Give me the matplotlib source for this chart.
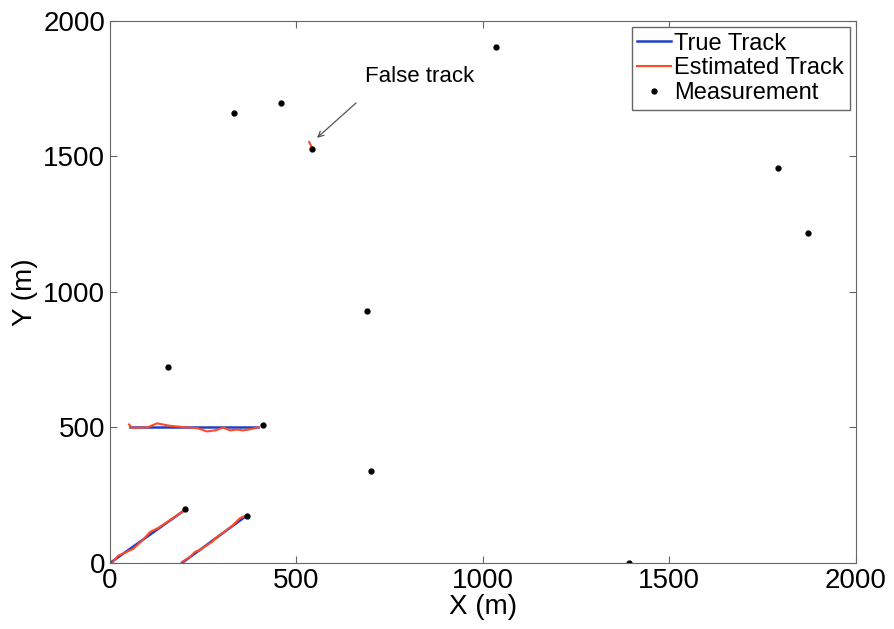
import matplotlib.pyplot as plt
import numpy as np

plt.rcParams['font.family'] = ['Liberation Sans', 'DejaVu Sans']

# true tracks (start/end points)
true1_x = [0, 193]
true1_y = [0, 188]
true2_x = [193, 362]
true2_y = [0, 170]
true3_x = [54, 397]
true3_y = [500, 500]

# estimated tracks
est1_x = [8, 21, 40, 62, 88, 107, 129, 153, 174, 193, 201]
est1_y = [4, 26, 38, 52, 85, 114, 129, 151, 170, 188, 203]
est2_x = [193, 214, 228, 241, 260, 273, 287, 314, 330, 349, 362]
est2_y = [4, 22, 41, 48, 66, 77, 96, 122, 140, 166, 173]
est3_x = [51, 59, 100, 126, 160, 206, 235, 260, 285, 303, 322, 340, 357, 375, 397]
est3_y = [511, 498, 500, 515, 506, 500, 497, 485, 490, 500, 489, 492, 489, 493, 500]
false_x = [534, 542]
false_y = [1553, 1531]

# measurements
meas_x = [332, 458, 1035, 542, 1791, 1871, 689, 155, 410, 700, 1391, 201, 367]
meas_y = [1660, 1697, 1904, 1528, 1458, 1218, 930, 723, 509, 339, 0, 199, 173]

blue = "#1f3fc8"
red = "#ff4a24"

fig = plt.figure(figsize=(8.95, 6.29), dpi=100)
ax = fig.add_axes([0.123, 0.105, 0.833, 0.862])

ax.plot(true1_x, true1_y, color=blue, lw=1.8, label="True Track")
ax.plot(true2_x, true2_y, color=blue, lw=1.8)
ax.plot(true3_x, true3_y, color=blue, lw=1.8)
ax.plot(est1_x, est1_y, color=red, lw=1.5, label="Estimated Track")
ax.plot(est2_x, est2_y, color=red, lw=1.5)
ax.plot(est3_x, est3_y, color=red, lw=1.5)
ax.plot(false_x, false_y, color=red, lw=1.5)
ax.plot(meas_x, meas_y, ".", color="black", ms=7, label="Measurement")

ax.text(831, 1793, "False track", ha="center", va="center", fontsize=16)
ax.annotate("", xy=(555, 1568), xytext=(660, 1697),
            arrowprops=dict(arrowstyle="->", color="#555555", lw=0.9,
                            shrinkA=0, shrinkB=0))

ax.set_xlim(0, 2000)
ax.set_ylim(0, 2000)
ax.set_xticks([0, 500, 1000, 1500, 2000])
ax.set_yticks([0, 500, 1000, 1500, 2000])
ax.tick_params(direction="in", top=True, right=True, labelsize=20,
               color="#666666", length=5)
for s in ax.spines.values():
    s.set_color("#666666")
ax.set_xlabel("X (m)", fontsize=20, labelpad=0)
ax.set_ylabel("Y (m)", fontsize=20, labelpad=4)

leg = ax.legend(loc="upper right", fontsize=17, handlelength=1.4,
                handletextpad=0.15, borderaxespad=0.25, borderpad=0.25,
                labelspacing=0.12, fancybox=False, framealpha=1)
leg.get_frame().set_edgecolor("#666666")

fig.savefig("out.png", dpi=100)
